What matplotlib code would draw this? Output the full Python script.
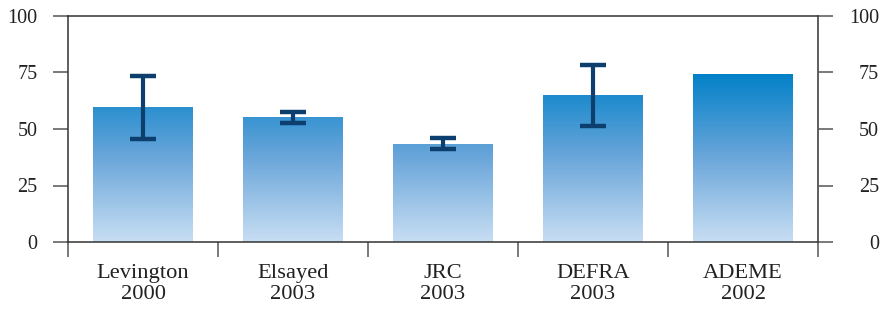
import numpy as np
import matplotlib
matplotlib.use('Agg')
import matplotlib.pyplot as plt
from matplotlib.colors import LinearSegmentedColormap, Normalize

# 数据
studies = ['Levington', 'Elsayed', 'JRC', 'DEFRA', 'ADEME']
years = ['2000', '2003', '2003', '2003', '2002']
values = [59.5, 55.0, 43.2, 64.7, 74.0]
err_high = [73.6, 57.5, 46.0, 78.2, None]
err_low = [45.7, 52.8, 41.0, 51.5, None]

plt.rcParams['font.family'] = ['Liberation Serif', 'DejaVu Serif']

fig = plt.figure(figsize=(8.83, 3.10), dpi=100)
ax = fig.add_axes([68 / 883, 68 / 310, 750 / 883, 226 / 310])

x = np.arange(len(studies))
bars = ax.bar(x, values, width=2 / 3, color='none', edgecolor='none')

# 渐变填充：底部浅蓝，顶部深蓝
cmap = LinearSegmentedColormap.from_list('grad', ['#c8def3', '#6aa6da', '#0080c8'])
norm = Normalize(0, 75)
for b in bars:
    x0, w, h = b.get_x(), b.get_width(), b.get_height()
    ys = np.linspace(0, h, 200).reshape(-1, 1)
    ax.imshow(cmap(norm(ys)), extent=[x0, x0 + w, 0, h], origin='lower',
              aspect='auto', interpolation='bicubic', zorder=2)

# 误差棒
for i in range(len(studies)):
    if err_high[i] is None:
        continue
    yerr = [[values[i] - err_low[i]], [err_high[i] - values[i]]]
    _, caps, lines = ax.errorbar(x[i], values[i], yerr=yerr, fmt='none', ecolor='#0c3f6e',
                                 elinewidth=3, capsize=9.5, capthick=3.2, zorder=3)
    for c in caps:
        c.set_solid_capstyle('round')
    for l in lines:
        l.set_capstyle('round')

ax.set_xlim(-0.5, len(studies) - 0.5)
ax.set_ylim(0, 100)
ax.set_yticks([0, 25, 50, 75, 100])

ax.set_xticks(x)
ax.set_xticklabels([f'{s}\n{y}' for s, y in zip(studies, years)], fontsize=16.2, color='#222222',
                   linespacing=1.15)
ax.set_xticks(np.arange(-0.5, len(studies)), minor=True)
ax.tick_params(axis='x', which='major', length=0, pad=16)
ax.tick_params(axis='x', which='minor', length=11, width=1.1, color='#555555', direction='out')
ax.tick_params(axis='y', length=11, width=1.1, color='#555555', pad=11, labelsize=14.5,
               labelcolor='#222222')

for s in ax.spines.values():
    s.set_color('#333333')
    s.set_linewidth(1.1)

ax2 = ax.twinx()
ax2.set_ylim(0, 100)
ax2.set_yticks([0, 25, 50, 75, 100])
ax2.tick_params(axis='y', length=11, width=1.1, color='#555555', pad=33, labelsize=14.5,
                labelcolor='#222222')
for lab in ax2.get_yticklabels():
    lab.set_horizontalalignment('right')
for s in ax2.spines.values():
    s.set_visible(False)

fig.savefig('out.png', dpi=100)
